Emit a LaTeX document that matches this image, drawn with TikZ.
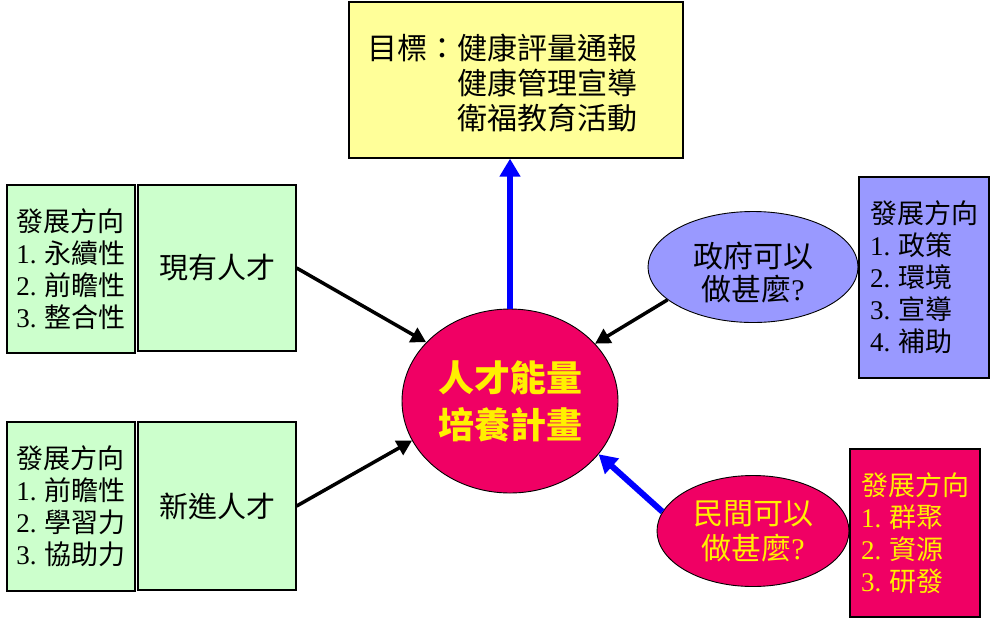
\documentclass[tikz,border=0pt]{standalone}
\usepackage{fontspec}
\newfontfamily\cjk{Noto Sans CJK TC}
\newfontfamily\lat{Liberation Serif}
\usetikzlibrary{shapes.geometric,arrows.meta}
\definecolor{boxgreen}{RGB}{204,255,204}
\definecolor{boxyellow}{RGB}{255,255,153}
\definecolor{boxpurple}{RGB}{153,153,255}
\definecolor{crimson}{RGB}{240,0,100}
\definecolor{txtyellow}{RGB}{255,240,0}
\definecolor{arrblue}{RGB}{0,0,255}
\tikzset{
  boxbase/.style={draw=black, line width=1.3pt, inner sep=0pt, align=left},
  dirbox/.style={boxbase, fill=boxgreen, minimum width=128pt, minimum height=168pt,
    font=\cjk\fontsize{27}{32}\selectfont},
  talentbox/.style={boxbase, fill=boxgreen, minimum width=158pt, minimum height=166pt,
    font=\cjk\fontsize{29}{34}\selectfont},
  ovalbase/.style={ellipse, draw=black, line width=0.9pt, inner sep=0pt, align=center},
  blackarrow/.style={line width=3.5pt, black, -{Triangle[length=15pt,width=16pt]}},
  bluearrow/.style={line width=6pt, arrblue, -{Triangle[length=18pt,width=20pt]}},
}
\newcommand{\lt}[1]{{\lat #1}}
\begin{document}
\begin{tikzpicture}[x=1pt,y=-1pt]
\useasboundingbox (0,0) rectangle (1000,619);

% top goal box
\node[boxbase, fill=boxyellow, minimum width=334pt, minimum height=156pt] (goal) at (516,80) {};
\node[align=left, inner sep=0pt, font=\cjk\fontsize{30}{35}\selectfont] (goaltext) at (502,83)
  {目標：健康評量通報\\\hphantom{目標：}健康管理宣導\\\hphantom{目標：}衛福教育活動};

% center ellipse
\node[ovalbase, fill=crimson, minimum width=216pt, minimum height=184pt,
      text=txtyellow, font=\cjk\bfseries\fontsize{36}{47}\selectfont] (center) at (510,401)
  {人才能量\\培養計畫};

% left top
\node[dirbox] (nowdir) at (71,269)
  {發展方向\\\lt{1.} 永續性\\\lt{2.} 前瞻性\\\lt{3.} 整合性};
\node[talentbox] (now) at (217,268) {現有人才};

% left bottom
\node[dirbox, minimum height=169pt] (newdir) at (71,506.5)
  {發展方向\\\lt{1.} 前瞻性\\\lt{2.} 學習力\\\lt{3.} 協助力};
\node[talentbox, minimum height=168pt] (new) at (217,506) {新進人才};

% government
\node[ovalbase, fill=boxpurple, minimum width=210pt, minimum height=111pt,
      font=\cjk\fontsize{30}{33}\selectfont] (gov) at (753,267)
  {\rule{0pt}{36pt}政府可以\\做甚麼\lt{?}};
\node[boxbase, fill=boxpurple, minimum width=130pt, minimum height=201pt,
      font=\cjk\fontsize{27}{32}\selectfont] (govdir) at (924,277.5)
  {發展方向\\\lt{1.} 政策\\\lt{2.} 環境\\\lt{3.} 宣導\\\lt{4.} 補助};

% civil
\node[ovalbase, fill=crimson, minimum width=192pt, minimum height=111pt,
      text=txtyellow, font=\cjk\fontsize{30}{35}\selectfont] (civ) at (753,531)
  {民間可以\\做甚麼\lt{?}};
\node[boxbase, fill=crimson, minimum width=130pt, minimum height=168pt,
      text=txtyellow, font=\cjk\fontsize{27}{32}\selectfont] (civdir) at (915,533)
  {發展方向\\\lt{1.} 群聚\\\lt{2.} 資源\\\lt{3.} 研發};

% connectors
\draw[bluearrow] (center.north) -- (center.north |- goal.south);
\draw[blackarrow] (now.east) -- (center.145);
\draw[blackarrow] (new.east) -- (center.202);
\draw[blackarrow] (gov.201) -- (center.34);
\draw[bluearrow] (civ.168) -- (center.-31);
\end{tikzpicture}
\end{document}
